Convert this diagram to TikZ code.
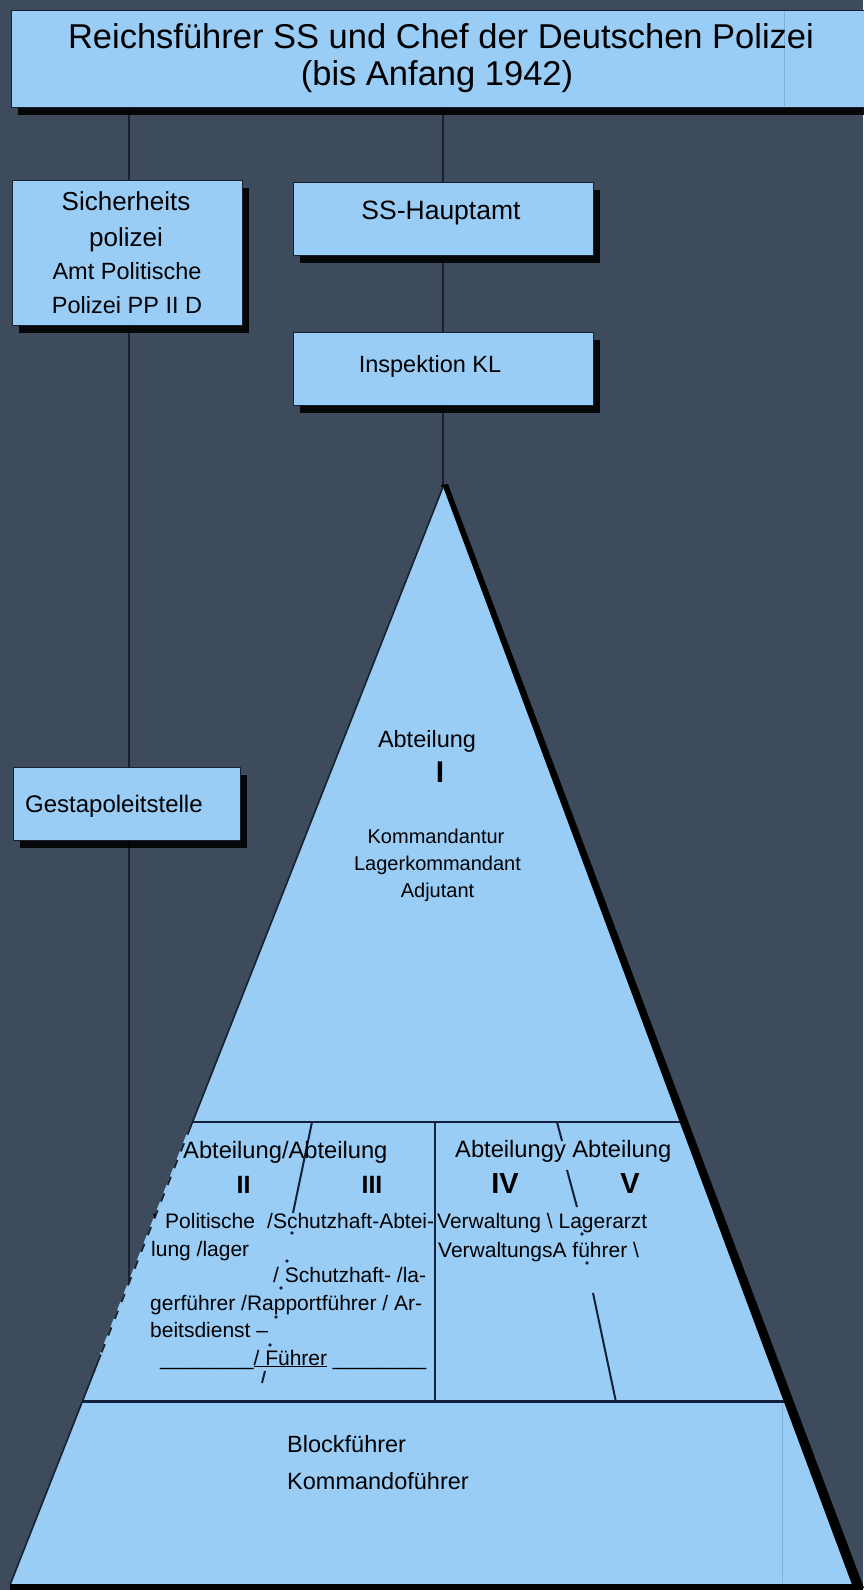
\documentclass[tikz,border=0pt]{standalone}
\usepackage{fontspec}
\setmainfont{Liberation Sans}
\usetikzlibrary{shadows,calc}
\pgfdeclarelayer{bglayer}
\pgfsetlayers{bglayer,main}
\definecolor{bg}{HTML}{3D4B5C}
\definecolor{lb}{HTML}{99CDF6}
\definecolor{ln}{HTML}{17222E}
\definecolor{nv}{HTML}{13203A}
\newcommand\myfs[1]{\fontsize{#1}{#1}\selectfont}
\begin{document}
\begin{tikzpicture}[x=1pt,y=-1pt,
  box/.style={draw=ln, line width=0.8pt, fill=lb, inner sep=0pt, anchor=north west,
    drop shadow={shadow xshift=7pt, shadow yshift=-8pt, fill=black, opacity=0.9}},
  conn/.style={draw=ln, line width=1.4pt},
  div/.style={draw=nv, line width=2.2pt},
  txt/.style={inner sep=0pt, anchor=base, text=black},
  txtw/.style={inner sep=0pt, anchor=base west, text=black},
  faint/.style={draw=lb!82!nv, line width=0.8pt}]
\useasboundingbox (0,0) rectangle (863,1590);
\begin{pgfonlayer}{bglayer}
\fill[bg] (0,0) rectangle (863,1590);
\end{pgfonlayer}

% boxes
\node[box, minimum width=862, minimum height=97] (top) at (11,10) {};
\node[box, minimum width=230, minimum height=145] (sich) at (12,180) {};
\node[box, minimum width=300, minimum height=73] (ssh) at (293,182) {};
\node[box, minimum width=300, minimum height=73] (insp) at (293,332) {};
\node[box, minimum width=227, minimum height=73] (gest) at (13,767) {};
\draw[faint] (784,11) -- (784,106);

% pyramid coordinates
\coordinate (apex) at (443,487);
\coordinate (bl) at (10,1585);
\coordinate (br) at (852,1585);
\coordinate (lx) at (129,1300);

% connectors
\begin{pgfonlayer}{bglayer}
\draw[conn] (top.south -| lx) -- (lx);
\draw[conn] (top.south -| apex) -- (apex);
\end{pgfonlayer}

% pyramid
\fill[black] (441,485) -- (448,484) -- (864,1588) -- (852,1588) -- cycle;
\fill[lb] (apex) -- (br) -- (bl) -- cycle;
\draw[ln, line width=1.6pt] (apex) -- (bl);
\draw[lb, line width=2.4pt, dash pattern=on 9pt off 9pt] ($(apex)!0.59!(bl)$) -- ($(apex)!0.79!(bl)$);
\fill[black] (10,1584) rectangle (863,1590);

\coordinate (h1l) at ($(apex)!0.5783!(bl)$);
\coordinate (h1r) at ($(apex)!0.5783!(br)$);
\coordinate (h2l) at ($(apex)!0.8333!(bl)$);
\coordinate (h2r) at ($(apex)!0.8333!(br)$);
\coordinate (v1t) at (435,1122);
\coordinate (v1b) at (435,1402);
\draw[div] (h1l) -- (h1r);
\draw[div, line width=3pt] (h2l) -- (h2r);
\draw[div] (v1t) -- (v1b);
\draw[faint] (782,1404) -- (782,1583);

% II / III divider
\draw[div, line width=2pt] (312,1122) -- (293,1213);
\foreach \p in {(292,1233),(287,1261),(281,1288),(276,1317),(270,1345)}
  \fill[nv] \p circle (1.8);
\draw[div, line width=2pt] (265,1371) -- (262,1383);
% IV / V divider
\draw[div, line width=2pt] (557,1122) -- (562,1141);
\draw[div, line width=2pt] (567,1170) -- (577,1207);
\fill[nv] (582,1234) circle (1.8);
\fill[nv] (587,1263) circle (1.8);
\draw[div, line width=2pt] (593,1293) -- (616,1402);

% texts
\node[txt] (t1) at (441,48) {\myfs{34.5}Reichsführer SS und Chef der Deutschen Polizei};
\node[txt] (t2) at (437,85) {\myfs{34.5}(bis Anfang 1942)};
\node[txt] (s1) at (126,210) {\myfs{26}Sicherheits};
\node[txt] (s2) at (126,246) {\myfs{26}polizei};
\node[txt] (s3) at (127,279) {\myfs{23.5}Amt Politische};
\node[txt] (s4) at (127,313) {\myfs{23.5}Polizei PP II D};
\node[txt] (sst) at (441,219) {\myfs{26.5}SS-Hauptamt};
\node[txt] (inst) at (430,372) {\myfs{23.5}Inspektion KL};
\node[txtw] (gt) at (25,812) {\myfs{24}Gestapoleitstelle};
\node[txt] (ab1) at (427,747) {\myfs{23.5}Abteilung};
\node[txt] (r1) at (440,782) {\myfs{30}\bfseries I};
\node[txt] (kom) at (436,843) {\myfs{20}Kommandantur};
\node[txt] (lag) at (437.5,870) {\myfs{20}Lagerkommandant};
\node[txt] (adj) at (437.5,897) {\myfs{20}Adjutant};
\node[txtw] (ab23) at (183,1158) {\myfs{23.7}Abteilung/Abteilung};
\node[txtw] (ab45) at (455,1157) {\myfs{23.7}Abteilungy Abteilung};
\node[txt] (r2) at (243.5,1193) {\myfs{25}\bfseries II};
\node[txt] (r3) at (372,1193) {\myfs{25}\bfseries III};
\node[txt] (r4) at (505,1193) {\myfs{29}\bfseries IV};
\node[txt] (r5) at (630,1193) {\myfs{29}\bfseries V};
\node[txtw] (apos) at (152,1228) {\myfs{21}'};
\node[txtw] (pol) at (165,1228) {\myfs{21}Politische};
\node[txtw] (sch1) at (267,1228) {\myfs{21}/Schutzhaft-Abtei-};
\node[txtw] (ver1) at (437,1228) {\myfs{21}Verwaltung \textbackslash{} Lagerarzt};
\node[txtw] (lung) at (151,1256) {\myfs{21}lung /lager};
\node[txtw] (ver2) at (438,1257) {\myfs{21}VerwaltungsA führer \textbackslash};
\node[txtw] (sch2) at (273,1282) {\myfs{21}/ Schutzhaft- /la-};
\node[txtw] (ger) at (150,1310) {\myfs{21}gerführer /Rapportführer / Ar-};
\node[txtw] (beit) at (150,1337) {\myfs{21}beitsdienst –};
\node[txtw] (fuh) at (160,1365) {\myfs{21}\_\_\_\_\_\_\_\_\underline{/ Führer} \_\_\_\_\_\_\_\_};
\node[txtw] (blk) at (287,1452) {\myfs{23.5}Blockführer};
\node[txtw] (kdo) at (287,1489) {\myfs{23.5}Kommandoführer};
\end{tikzpicture}
\end{document}
